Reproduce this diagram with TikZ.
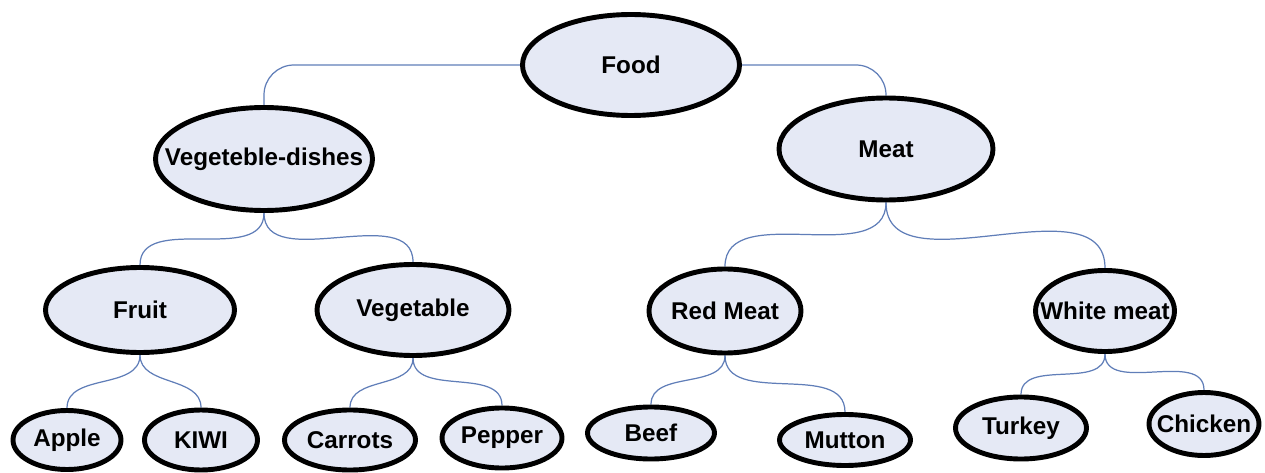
\documentclass[tikz,border=0pt]{standalone}
\usepackage{fontspec}
\setmainfont{Liberation Sans}
\usetikzlibrary{shapes.geometric,backgrounds}
\definecolor{blobfill}{RGB}{229,233,245}
\definecolor{linkblue}{RGB}{96,126,184}
\def\px{0.02cm}
\tikzset{
	blob/.style={ellipse, draw=black, line width=2.8pt, fill=blobfill, inner sep=0pt,
		font=\fontsize{13.8}{16}\selectfont\bfseries},
	link/.style={draw=linkblue, line width=0.7pt},
}
% \blob(name)(x,y)(width,height){text}, all in pixels
\def\blob(#1)(#2,#3)(#4,#5)#6{\node[blob, minimum width=#4*\px, minimum height=#5*\px] (#1) at (#2,#3) {\makebox[0pt]{#6}};}

\begin{document}
\begin{tikzpicture}[x=\px, y=-\px]
		%%%%% START %%%%%
		\useasboundingbox (0,0) rectangle (1265,473);
		
		\blob(food)(631,65)(217,101){Food};
		
		\blob(vegdish)(264,159)(217,103){Vegeteble-dishes};
		\blob(meat)(886,149)(214,102){Meat};
		
		\blob(fruit)(140,310)(189,85){Fruit};
		\blob(vegetable)(413,310)(192,91){Vegetable};
		\blob(redmeat)(725,311)(152,84){Red Meat};
		\blob(whitemeat)(1105,311)(139,81){White meat};
		
		\blob(apple)(67,440)(108,59){Apple};
		\blob(kiwi)(201,440)(113,60){KIWI};
		\blob(carrots)(350,440)(131,60){Carrots};
		\blob(pepper)(502,438)(120,60){Pepper};
		\blob(beef)(651,433)(127,52){Beef};
		\blob(mutton)(845,440)(131,51){Mutton};
		\blob(turkey)(1021,428)(131,62){Turkey};
		\blob(chicken)(1204,424)(110,63){Chicken};
		
		\begin{scope}[on background layer]
			\draw[link, rounded corners=0.6cm] (food.west) -| (vegdish.north);
			\draw[link, rounded corners=0.6cm] (food.east) -| (meat.north);
			
			\foreach \p/\c in {vegdish/fruit, vegdish/vegetable, meat/redmeat, meat/whitemeat,
				fruit/apple, fruit/kiwi, vegetable/carrots, vegetable/pepper,
				redmeat/beef, redmeat/mutton, whitemeat/turkey, whitemeat/chicken}
				\draw[link] (\p.south) to[out=-90, in=90] (\c.north);
		\end{scope}
		
		%%%%% END %%%%%
\end{tikzpicture}
\end{document}
